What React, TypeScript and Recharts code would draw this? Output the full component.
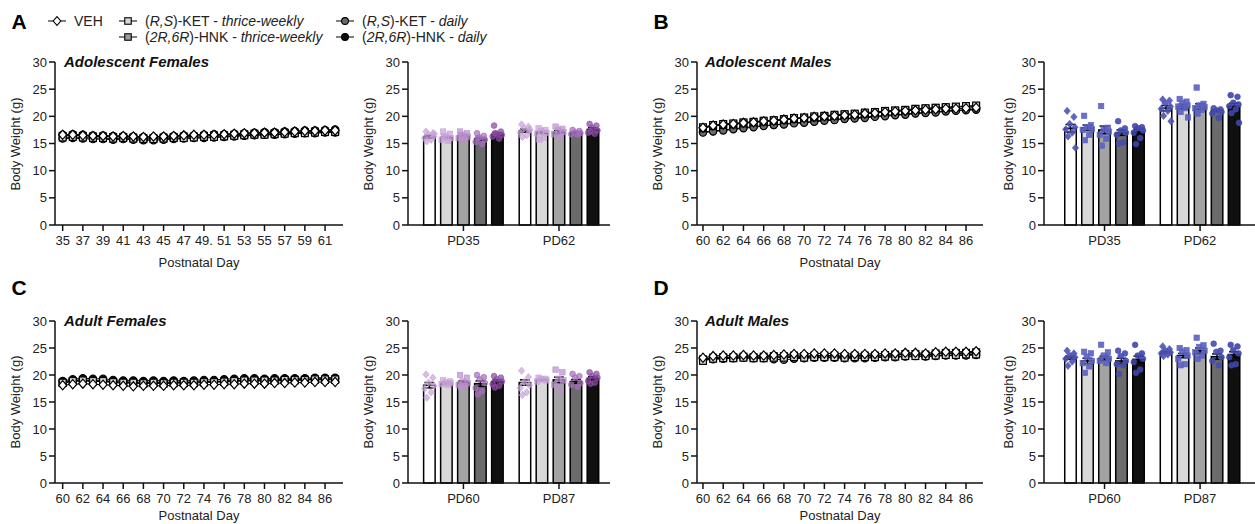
import React from 'react';
import { LineChart, Line, XAxis, YAxis, ComposedChart, Bar, Scatter, Cell, ErrorBar } from 'recharts';

const FONT = '"Liberation Sans", Arial, Helvetica, sans-serif';

// ---- days / ticks ----
const adolFemDays = [35, 36, 37, 38, 39, 40, 41, 42, 43, 44, 45, 46, 47, 48, 49, 50, 51, 52, 53, 54, 55, 56, 57, 58, 59, 60, 61, 62];
const adultDays = [60, 61, 62, 63, 64, 65, 66, 67, 68, 69, 70, 71, 72, 73, 74, 75, 76, 77, 78, 79, 80, 81, 82, 83, 84, 85, 86, 87];
const adolFemTicks = [35, 37, 39, 41, 43, 45, 47, 49, 51, 53, 55, 57, 59, 61];
const adolFemTickLabels = ['35', '37', '39', '41', '43', '45', '47', '49.', '51', '53', '55', '57', '59', '61'];
const adultTicks = [60, 62, 64, 66, 68, 70, 72, 74, 76, 78, 80, 82, 84, 86];
const adultTickLabels = ['60', '62', '64', '66', '68', '70', '72', '74', '76', '78', '80', '82', '84', '86'];

// ---- A: adolescent females, daily weights ----
const afVeh = [16.6, 16.6, 16.5, 16.4, 16.4, 16.3, 16.4, 16.3, 16.2, 16.3, 16.3, 16.4, 16.5, 16.6, 16.6, 16.6, 16.7, 16.8, 16.9, 16.9, 17.0, 17.0, 17.1, 17.2, 17.3, 17.3, 17.4, 17.4];
const afKet3 = [16.1, 16.2, 16.1, 16.0, 16.0, 15.9, 16.0, 15.9, 15.8, 15.8, 15.9, 16.0, 16.0, 16.1, 16.2, 16.2, 16.3, 16.4, 16.5, 16.6, 16.6, 16.7, 16.8, 16.9, 16.9, 17.0, 17.1, 17.1];
const afHnk3 = [16.4, 16.5, 16.4, 16.3, 16.3, 16.2, 16.2, 16.1, 16.0, 16.0, 16.1, 16.2, 16.3, 16.3, 16.4, 16.5, 16.5, 16.6, 16.7, 16.8, 16.8, 16.9, 17.0, 17.0, 17.1, 17.2, 17.2, 17.2];
const afKetD = [15.9, 16.0, 15.9, 15.8, 15.8, 15.7, 15.8, 15.7, 15.6, 15.6, 15.7, 15.8, 15.9, 16.0, 16.0, 16.1, 16.2, 16.3, 16.4, 16.5, 16.6, 16.6, 16.7, 16.8, 16.9, 16.9, 17.0, 17.0];
const afHnkD = [16.6, 16.7, 16.6, 16.5, 16.5, 16.4, 16.4, 16.3, 16.2, 16.2, 16.3, 16.4, 16.5, 16.5, 16.6, 16.7, 16.7, 16.8, 16.9, 17.0, 17.1, 17.1, 17.2, 17.3, 17.4, 17.4, 17.5, 17.6];

// ---- B: adolescent males ----
const amVeh = [17.9, 18.3, 18.5, 18.6, 18.8, 18.9, 19.1, 19.2, 19.4, 19.6, 19.7, 19.9, 20.0, 20.1, 20.2, 20.3, 20.5, 20.6, 20.8, 20.9, 21.0, 21.1, 21.2, 21.3, 21.4, 21.4, 21.5, 21.6];
const amKet3 = [18.0, 18.4, 18.6, 18.7, 18.9, 19.0, 19.2, 19.3, 19.5, 19.7, 19.8, 20.0, 20.1, 20.3, 20.4, 20.5, 20.7, 20.8, 21.0, 21.1, 21.2, 21.4, 21.5, 21.6, 21.7, 21.8, 21.9, 22.0];
const amHnk3 = [17.8, 18.2, 18.4, 18.5, 18.7, 18.9, 19.0, 19.2, 19.3, 19.5, 19.7, 19.8, 20.0, 20.1, 20.3, 20.4, 20.5, 20.7, 20.9, 21.0, 21.1, 21.3, 21.4, 21.5, 21.6, 21.7, 21.8, 21.9];
const amKetD = [17.0, 17.2, 17.4, 17.6, 17.8, 18.0, 18.2, 18.4, 18.5, 18.7, 18.8, 19.0, 19.2, 19.3, 19.5, 19.6, 19.7, 19.9, 20.0, 20.2, 20.3, 20.5, 20.6, 20.7, 20.9, 21.0, 21.1, 21.2];
const amHnkD = [17.1, 17.3, 17.5, 17.7, 17.9, 18.1, 18.3, 18.4, 18.6, 18.8, 18.9, 19.1, 19.3, 19.4, 19.6, 19.7, 19.9, 20.0, 20.2, 20.3, 20.4, 20.6, 20.7, 20.8, 21.0, 21.1, 21.2, 21.3];

// ---- C: adult females ----
const xfVeh = [18.1, 18.3, 18.4, 18.3, 18.2, 18.1, 18.0, 17.9, 18.0, 18.0, 18.0, 18.1, 18.1, 18.1, 18.2, 18.2, 18.3, 18.3, 18.4, 18.4, 18.4, 18.5, 18.5, 18.6, 18.6, 18.7, 18.7, 18.7];
const xfKet3 = [18.6, 18.9, 19.0, 18.9, 18.9, 18.7, 18.6, 18.6, 18.5, 18.6, 18.5, 18.6, 18.6, 18.6, 18.7, 18.7, 18.8, 18.9, 19.0, 19.0, 19.0, 19.0, 19.1, 19.1, 19.1, 19.2, 19.2, 19.2];
const xfHnk3 = [18.5, 18.8, 18.9, 18.8, 18.8, 18.6, 18.5, 18.5, 18.4, 18.5, 18.4, 18.5, 18.5, 18.5, 18.6, 18.7, 18.7, 18.8, 18.9, 18.9, 18.9, 18.9, 19.0, 19.0, 19.1, 19.1, 19.1, 19.1];
const xfKetD = [18.7, 19.0, 19.1, 19.0, 19.0, 18.8, 18.7, 18.7, 18.6, 18.7, 18.6, 18.7, 18.7, 18.7, 18.8, 18.8, 18.9, 19.0, 19.1, 19.1, 19.1, 19.1, 19.2, 19.2, 19.2, 19.3, 19.3, 19.3];
const xfHnkD = [18.9, 19.2, 19.4, 19.3, 19.3, 19.1, 19.0, 19.0, 18.9, 19.0, 18.9, 19.0, 18.9, 19.0, 19.1, 19.1, 19.2, 19.3, 19.4, 19.4, 19.3, 19.4, 19.4, 19.4, 19.4, 19.5, 19.5, 19.5];

// ---- D: adult males ----
const xmVeh = [23.2, 23.5, 23.6, 23.6, 23.7, 23.6, 23.6, 23.7, 23.8, 23.9, 23.9, 24.0, 24.0, 24.0, 23.9, 23.9, 23.9, 23.9, 24.0, 24.0, 24.1, 24.1, 24.0, 24.2, 24.3, 24.3, 24.3, 24.4];
const xmKet3 = [22.6, 23.0, 23.1, 23.1, 23.2, 23.1, 23.1, 23.2, 23.2, 23.3, 23.2, 23.3, 23.3, 23.3, 23.2, 23.3, 23.3, 23.3, 23.4, 23.4, 23.5, 23.5, 23.5, 23.6, 23.7, 23.7, 23.8, 23.8];
const xmHnk3 = [22.9, 23.2, 23.3, 23.3, 23.4, 23.3, 23.4, 23.5, 23.5, 23.6, 23.5, 23.6, 23.6, 23.6, 23.5, 23.6, 23.6, 23.6, 23.7, 23.8, 23.9, 23.9, 23.8, 24.0, 24.1, 24.1, 24.1, 24.2];
const xmKetD = [22.9, 22.9, 23.0, 23.1, 23.2, 23.1, 23.1, 22.9, 22.8, 23.0, 23.1, 23.2, 23.2, 23.2, 23.1, 23.1, 23.1, 23.2, 23.3, 23.3, 23.4, 23.5, 23.4, 23.5, 23.6, 23.6, 23.6, 23.7];
const xmHnkD = [23.0, 23.2, 23.3, 23.2, 23.4, 23.3, 23.3, 23.4, 23.3, 23.5, 23.4, 23.5, 23.5, 23.5, 23.4, 23.5, 23.5, 23.5, 23.6, 23.7, 23.8, 23.8, 23.7, 23.9, 24.0, 24.0, 24.0, 24.1];

// ---- bar panels: means, sem, individual animals (VEH, KET 3x, HNK 3x, KET daily, HNK daily) ----
const afTimes = ['PD35', 'PD62'];
const afMeans = [[16.25, 16.1, 16.4, 15.85, 16.7], [17.35, 17.05, 17.1, 17.0, 17.6]];
const afSem = [[0.25, 0.2, 0.2, 0.25, 0.3], [0.3, 0.2, 0.25, 0.15, 0.3]];
const afPts35 = [
  [17.2, 16.9, 16.6, 16.3, 16.0, 15.7, 15.4, 16.8],
  [17.2, 16.8, 16.4, 16.0, 15.7, 15.5, 16.2],
  [17.2, 16.9, 16.6, 16.3, 16.0, 15.8, 16.5],
  [16.9, 16.4, 16.1, 15.7, 15.3, 14.9, 16.0],
  [18.3, 17.2, 16.8, 16.6, 16.3, 15.9, 16.9],
];
const afPts62 = [
  [18.5, 18.1, 17.8, 17.4, 17.0, 16.5, 16.2, 17.6],
  [17.8, 17.5, 17.3, 17.0, 16.8, 16.1, 15.7],
  [18.1, 17.7, 17.4, 17.1, 16.7, 16.4],
  [17.5, 17.3, 17.1, 16.9, 16.7, 16.6],
  [18.6, 18.3, 17.9, 17.4, 17.0, 16.8, 17.2],
];

const amTimes = ['PD35', 'PD62'];
const amMeans = [[17.8, 17.9, 17.5, 17.0, 17.2], [21.5, 21.8, 21.8, 21.1, 21.9]];
const amSem = [[0.7, 0.5, 0.7, 0.5, 0.4], [0.5, 0.4, 0.5, 0.2, 0.5]];
const amPts35 = [
  [21.0, 19.9, 18.6, 18.0, 17.6, 17.0, 16.3, 14.2],
  [20.1, 18.4, 18.0, 17.6, 17.5, 16.6, 15.6],
  [21.9, 17.9, 17.6, 17.2, 16.6, 15.9, 14.6],
  [19.1, 17.8, 17.4, 17.0, 16.6, 15.2, 15.0],
  [18.2, 18.0, 17.8, 17.4, 17.0, 16.0, 14.9],
];
const amPts62 = [
  [23.1, 22.9, 22.4, 21.8, 21.4, 21.0, 20.1, 19.1],
  [23.2, 22.7, 22.4, 22.0, 21.8, 21.5, 20.8, 19.8],
  [25.3, 22.3, 22.0, 21.7, 21.5, 21.2, 20.5],
  [21.5, 21.3, 21.1, 20.8, 20.5, 19.7],
  [23.9, 23.6, 22.5, 22.2, 21.9, 21.3, 20.6, 18.8],
];

const xfTimes = ['PD60', 'PD87'];
const xfMeans = [[18.1, 18.5, 18.6, 18.4, 18.8], [18.6, 19.1, 19.1, 18.8, 19.4]];
const xfSem = [[0.5, 0.15, 0.3, 0.5, 0.3], [0.5, 0.1, 0.5, 0.35, 0.3]];
const xfPts60 = [
  [20.1, 19.5, 18.6, 18.0, 17.5, 16.8, 15.8],
  [19.0, 18.8, 18.6, 18.5, 18.3, 18.2],
  [20.0, 19.5, 18.8, 18.5, 18.2, 18.0, 17.8],
  [20.0, 19.6, 19.2, 18.5, 17.6, 17.0, 16.4],
  [19.8, 19.5, 19.2, 18.8, 18.3, 18.0, 17.7],
];
const xfPts87 = [
  [20.8, 19.6, 18.7, 18.1, 17.6, 16.8, 16.3],
  [19.5, 19.3, 19.2, 19.0, 18.8],
  [21.0, 20.5, 19.3, 19.0, 18.2, 17.3],
  [20.2, 19.8, 19.5, 18.5, 18.2, 17.8],
  [20.5, 20.2, 19.8, 19.5, 18.9, 18.6, 18.4],
];

const xmTimes = ['PD60', 'PD87'];
const xmMeans = [[23.2, 22.6, 23.1, 22.6, 22.9], [24.2, 23.6, 24.5, 23.4, 23.8]];
const xmSem = [[0.3, 0.5, 0.4, 0.5, 0.6], [0.2, 0.4, 0.5, 0.5, 0.5]];
const xmPts60 = [
  [24.5, 24.0, 23.6, 23.3, 23.0, 22.5, 21.7],
  [24.3, 24.0, 23.4, 22.6, 22.2, 21.6, 20.4],
  [25.6, 24.2, 23.6, 23.0, 22.6, 22.2],
  [24.5, 24.0, 23.5, 22.6, 22.0, 21.8, 20.2],
  [25.6, 24.0, 23.6, 23.0, 22.4, 21.0, 20.4],
];
const xmPts87 = [
  [25.3, 24.8, 24.5, 24.2, 24.0, 23.8, 23.5],
  [25.0, 24.6, 24.3, 23.6, 23.0, 22.0, 21.8],
  [26.9, 25.5, 25.2, 24.5, 24.2, 23.6, 23.0],
  [25.8, 24.5, 24.3, 23.3, 22.6, 21.8],
  [25.6, 25.3, 24.6, 24.0, 23.3, 22.0, 21.8],
];

// ---- styling ----
const SERIES_KEYS = ['veh', 'ket3', 'hnk3', 'ketd', 'hnkd'];
const MARK_KIND = ['diamond', 'square', 'square', 'circle', 'circle'];
const MARK_FILL = ['#ffffff', '#d7d7d7', '#9c9c9c', '#6a6a6a', '#0e0e0e'];
const BAR_FILLS = ['#ffffff', '#d8d8d8', '#a3a3a3', '#6b6b6b', '#101010'];
const BAR_W = 11.5;
const GROUP_GAP = 5.62;
const JITTER = [-0.2, 0.2, -0.05, 0.26, -0.28, 0.1, -0.15, 0.29];
const Y_TICKS = [0, 5, 10, 15, 20, 25, 30];
const AXIS = { stroke: '#111', strokeWidth: 1.5 };
const TICK = { fontSize: 13, fill: '#222', fontFamily: FONT };

const TONES = {
  female: ['#c7a2d9', '#c7a2d9', '#bb8fd0', '#a56dbe', '#8a4aa3'],
  male: ['#4c53b4', '#5a61c0', '#5a61c0', '#454cae', '#3f46a8'],
};

const drawMark = (kind: string, cx: number, cy: number, s: number, fill: string, stroke: string, sw: number, key?: any, op = 1) => {
  if (kind === 'diamond')
    return <path key={key} d={`M${cx},${cy - s * 1.15}L${cx + s},${cy}L${cx},${cy + s * 1.15}L${cx - s},${cy}Z`} fill={fill} fillOpacity={op} stroke={stroke} strokeWidth={sw} />;
  if (kind === 'square')
    return <rect key={key} x={cx - s * 0.85} y={cy - s * 0.85} width={s * 1.7} height={s * 1.7} fill={fill} fillOpacity={op} stroke={stroke} strokeWidth={sw} />;
  return <circle key={key} cx={cx} cy={cy} r={s * 0.9} fill={fill} fillOpacity={op} stroke={stroke} strokeWidth={sw} />;
};

const lineDot = (i: number) => (p: any) => {
  if (p.cx == null || p.cy == null) return <g key={p.index} />;
  return drawMark(MARK_KIND[i], p.cx, p.cy, 4.0, MARK_FILL[i], '#000', 1.2, p.index);
};

// bar drawn around the scale position of its category, fixed width
const barShape = (p: any) => {
  const cx = p.x + p.width / 2;
  return <rect x={cx - BAR_W / 2} y={p.y} width={BAR_W} height={Math.max(0, p.height)} fill={BAR_FILLS[p.index % 5]} stroke="#000" strokeWidth={1.5} />;
};

const Text = ({ x, y, children, style }: any) => (
  <div style={{ position: 'absolute', left: x, top: y, transform: 'translate(-50%, -50%)', whiteSpace: 'nowrap', ...style }}>{children}</div>
);

const YLabel = ({ x, y }: any) => (
  <div style={{ position: 'absolute', left: x, top: y, transform: 'translate(-50%, -50%) rotate(-90deg)', whiteSpace: 'nowrap', fontSize: 13, color: '#222' }}>
    Body Weight (g)
  </div>
);

function LinePanel({ left, top, width, height, days, series, domain, ticks, tickLabels }: any) {
  const ML = 40, MT = 8, MR = 8, XH = 30;
  const data = days.map((d: number, i: number) => {
    const row: any = { day: d };
    SERIES_KEYS.forEach((k, s) => (row[k] = series[s][i]));
    return row;
  });
  return (
    <div style={{ position: 'absolute', left: left - ML, top: top - MT }}>
      <LineChart width={ML + width + MR} height={MT + height + XH} data={data} margin={{ top: MT, right: MR, bottom: 0, left: 0 }}>
        <XAxis type="number" dataKey="day" domain={domain} allowDataOverflow ticks={ticks} interval={0}
          tickFormatter={(v: number) => tickLabels[ticks.indexOf(v)] ?? String(v)}
          height={XH} axisLine={AXIS} tickLine={AXIS} tickSize={6} tickMargin={5} tick={TICK} />
        <YAxis type="number" domain={[0, 30]} ticks={Y_TICKS} interval={0} width={ML} axisLine={AXIS} tickLine={AXIS} tickSize={6} tick={TICK} />
        {[4, 3, 2, 1, 0].map((s) => (
          <Line key={SERIES_KEYS[s]} dataKey={SERIES_KEYS[s]} stroke="#000" strokeWidth={1} dot={lineDot(s)} activeDot={false} isAnimationActive={false} />
        ))}
      </LineChart>
    </div>
  );
}

function BarPanel({ left, top, width, height, domain, times, means, sems, points, tone }: any) {
  const ML = 40, MT = 8, MR = 0, XH = 30;
  const bars: any[] = [];
  means.forEach((row: number[], g: number) => row.forEach((m, i) => bars.push({ x: g * GROUP_GAP + i, mean: m, sem: sems[g][i] })));
  const pts = [0, 1, 2, 3, 4].map((i) => {
    const arr: any[] = [];
    points.forEach((grp: number[][], g: number) => grp[i].forEach((v, k) => arr.push({ x: g * GROUP_GAP + i + JITTER[k % JITTER.length], y: v })));
    return arr;
  });
  const colors = TONES[tone as 'female' | 'male'];
  const op = tone === 'female' ? 0.72 : 0.9;
  return (
    <div style={{ position: 'absolute', left: left - ML, top: top - MT }}>
      <ComposedChart width={ML + width + MR} height={MT + height + XH} data={bars} margin={{ top: MT, right: MR, bottom: 0, left: 0 }}>
        <XAxis type="number" dataKey="x" domain={domain} allowDataOverflow ticks={[2, 2 + GROUP_GAP]} interval={0}
          tickFormatter={(v: number) => (v < 4 ? times[0] : times[1])}
          height={XH} axisLine={AXIS} tickLine={AXIS} tickSize={6} tickMargin={5} tick={TICK} />
        <YAxis type="number" domain={[0, 30]} ticks={Y_TICKS} interval={0} width={ML} axisLine={AXIS} tickLine={AXIS} tickSize={6} tick={TICK} />
        <Bar dataKey="mean" barSize={BAR_W} shape={barShape} isAnimationActive={false}>
          {bars.map((_, i) => <Cell key={i} fill={BAR_FILLS[i % 5]} />)}
          <ErrorBar dataKey="sem" width={5} stroke="#000" strokeWidth={1.5} />
        </Bar>
        {pts.map((arr, i) => (
          <Scatter key={i} data={arr} dataKey="y" isAnimationActive={false}
            shape={(p: any) => drawMark(MARK_KIND[i], p.cx, p.cy, 3.2, colors[i], colors[i], 0.6, undefined, op)} />
        ))}
      </ComposedChart>
    </div>
  );
}

const LegendItem = ({ x, y, kind, fill, children }: any) => (
  <div style={{ position: 'absolute', left: x, top: y - 9, height: 18, display: 'flex', alignItems: 'center', whiteSpace: 'nowrap', fontSize: 14, color: '#222' }}>
    <svg width={22} height={18} style={{ marginRight: 6 }}>
      <line x1={2} y1={9} x2={20} y2={9} stroke="#000" strokeWidth={1} />
      {drawMark(kind, 11, 9, 3.8, fill, '#000', 1.1)}
    </svg>
    <span>{children}</span>
  </div>
);

export default function App() {
  const rowTop = [62, 321];
  const rowH = [163, 162];
  return (
    <div style={{ position: 'absolute', left: 0, top: 0, width: 1255, height: 524, background: '#fff', fontFamily: FONT, overflow: 'hidden' }}>
      {/* panel letters */}
      <Text x={19} y={22} style={{ fontSize: 21, fontWeight: 700 }}>A</Text>
      <Text x={661} y={22} style={{ fontSize: 21, fontWeight: 700 }}>B</Text>
      <Text x={19} y={288} style={{ fontSize: 21, fontWeight: 700 }}>C</Text>
      <Text x={661} y={288} style={{ fontSize: 21, fontWeight: 700 }}>D</Text>

      {/* legend */}
      <LegendItem x={46} y={21} kind="diamond" fill={MARK_FILL[0]}>VEH</LegendItem>
      <LegendItem x={117} y={21} kind="square" fill={MARK_FILL[1]}>(<i>R,S</i>)-KET - <i>thrice-weekly</i></LegendItem>
      <LegendItem x={117} y={37} kind="square" fill={MARK_FILL[2]}>(<i>2R,6R</i>)-HNK - <i>thrice-weekly</i></LegendItem>
      <LegendItem x={334} y={21} kind="circle" fill={MARK_FILL[3]}>(<i>R,S</i>)-KET - <i>daily</i></LegendItem>
      <LegendItem x={334} y={37} kind="circle" fill={MARK_FILL[4]}>(<i>2R,6R</i>)-HNK - <i>daily</i></LegendItem>

      {/* A */}
      <LinePanel left={55} top={rowTop[0]} width={288} height={rowH[0]} days={adolFemDays}
        series={[afVeh, afKet3, afHnk3, afKetD, afHnkD]} domain={[34.24, 62.78]} ticks={adolFemTicks} tickLabels={adolFemTickLabels} />
      <BarPanel left={408} top={rowTop[0]} width={202} height={rowH[0]} domain={[-1.26, 10.62]} times={afTimes}
        means={afMeans} sems={afSem} points={[afPts35, afPts62]} tone="female" />
      {/* B */}
      <LinePanel left={697} top={rowTop[0]} width={286} height={rowH[0]} days={adultDays}
        series={[amVeh, amKet3, amHnk3, amKetD, amHnkD]} domain={[59.41, 87.68]} ticks={adultTicks} tickLabels={adultTickLabels} />
      <BarPanel left={1044} top={rowTop[0]} width={211} height={rowH[0]} domain={[-1.56, 10.85]} times={amTimes}
        means={amMeans} sems={amSem} points={[amPts35, amPts62]} tone="male" />
      {/* C */}
      <LinePanel left={55} top={rowTop[1]} width={288} height={rowH[1]} days={adultDays}
        series={[xfVeh, xfKet3, xfHnk3, xfKetD, xfHnkD]} domain={[59.24, 87.78]} ticks={adultTicks} tickLabels={adultTickLabels} />
      <BarPanel left={408} top={rowTop[1]} width={202} height={rowH[1]} domain={[-1.26, 10.62]} times={xfTimes}
        means={xfMeans} sems={xfSem} points={[xfPts60, xfPts87]} tone="female" />
      {/* D */}
      <LinePanel left={697} top={rowTop[1]} width={286} height={rowH[1]} days={adultDays}
        series={[xmVeh, xmKet3, xmHnk3, xmKetD, xmHnkD]} domain={[59.41, 87.68]} ticks={adultTicks} tickLabels={adultTickLabels} />
      <BarPanel left={1044} top={rowTop[1]} width={211} height={rowH[1]} domain={[-1.56, 10.85]} times={xmTimes}
        means={xmMeans} sems={xmSem} points={[xmPts60, xmPts87]} tone="male" />

      {/* panel titles */}
      {[['Adolescent Females', 64, 62], ['Adolescent Males', 705, 62], ['Adult Females', 64, 321], ['Adult Males', 705, 321]].map(([t, x, y]: any) => (
        <div key={t} style={{ position: 'absolute', left: x, top: y - 9, fontSize: 15, lineHeight: '18px', fontWeight: 700, fontStyle: 'italic', color: '#111', whiteSpace: 'nowrap' }}>{t}</div>
      ))}

      {/* axis titles */}
      <YLabel x={15} y={143.5} />
      <YLabel x={368} y={143.5} />
      <YLabel x={657} y={143.5} />
      <YLabel x={1008} y={143.5} />
      <YLabel x={15} y={402} />
      <YLabel x={368} y={402} />
      <YLabel x={657} y={402} />
      <YLabel x={1008} y={402} />
      <Text x={199} y={262} style={{ fontSize: 13, color: '#222' }}>Postnatal Day</Text>
      <Text x={840} y={262} style={{ fontSize: 13, color: '#222' }}>Postnatal Day</Text>
      <Text x={199} y={515} style={{ fontSize: 13, color: '#222' }}>Postnatal Day</Text>
      <Text x={840} y={515} style={{ fontSize: 13, color: '#222' }}>Postnatal Day</Text>
    </div>
  );
}
